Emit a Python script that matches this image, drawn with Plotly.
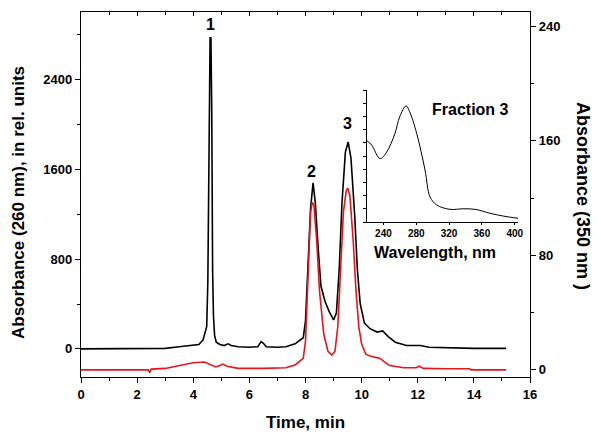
import plotly.graph_objects as go

# --- Main chromatogram, 260 nm (left axis) ---
t_260 = [0.0, 0.5, 1.0, 1.5, 2.0, 2.5, 3.0, 3.5, 3.9, 4.2, 4.35, 4.42, 4.48, 4.52, 4.55, 4.58,
         4.60, 4.63, 4.66, 4.69, 4.72, 4.76, 4.82, 4.95, 5.1, 5.25, 5.35, 5.6, 6.0, 6.3, 6.42,
         6.5, 6.6, 7.0, 7.3, 7.63, 7.92, 8.0, 8.1, 8.18, 8.27, 8.35, 8.45, 8.55, 8.7, 8.85,
         9.0, 9.1, 9.2, 9.3, 9.42, 9.52, 9.62, 9.75, 9.85, 9.95, 10.1, 10.3, 10.55, 10.75,
         10.95, 11.2, 11.6, 12.0, 12.1, 12.4, 13.0, 14.0, 15.15]
a_260 = [0, 0, 0, 0, 0, 2, 5, 20, 30, 40, 80, 140, 200, 600, 1400, 2300,
         2770, 2770, 2100, 700, 300, 120, 60, 40, 30, 45, 30, 20, 15, 20, 65,
         50, 20, 15, 20, 45, 100, 250, 800, 1250, 1478, 1300, 900, 560, 420, 330,
         258, 320, 700, 1300, 1750, 1843, 1700, 1200, 700, 400, 230, 180, 150, 160,
         110, 60, 30, 25, 30, 15, 10, 5, 5]

# --- Chromatogram, 350 nm (right axis) ---
t_350 = [0.0, 2.4, 2.45, 2.5, 3.0, 3.5, 4.0, 4.4, 4.6, 4.8, 4.95, 5.05, 5.2, 5.6, 6.5, 7.3,
         7.63, 7.92, 8.0, 8.1, 8.18, 8.24, 8.3, 8.4, 8.5, 8.65, 8.8, 8.94, 9.05, 9.15, 9.25,
         9.35, 9.45, 9.5, 9.58, 9.7, 9.8, 9.9, 10.0, 10.15, 10.3, 10.66, 10.85, 11.0, 11.5,
         11.95, 12.05, 12.2, 13.0, 13.85, 13.9, 15.15]
a_350 = [0, 0, -2, 0.5, 1, 3, 5, 5.5, 4, 2, 3, 4, 2.5, 1, 1, 1.5,
         3.4, 8, 20, 70, 110, 117, 115, 90, 55, 25, 13, 10.3, 13, 30, 70,
         110, 125, 127, 122, 90, 55, 30, 18, 11, 9.6, 8, 5, 3, 1.5,
         1.5, 2.5, 1, 0.8, 0.8, 0, 0]

# --- Inset: UV spectrum of fraction 3 ---
wl = [220, 225.7, 235.9, 244, 254, 260, 267.6, 272, 280.6, 290.7, 296.8, 305, 321, 337,
      351.7, 370, 386, 404]
spec = [0.616, 0.583, 0.48, 0.53, 0.67, 0.80, 0.88, 0.835, 0.67, 0.394, 0.19, 0.129,
        0.096, 0.10, 0.096, 0.066, 0.045, 0.028]

peak_labels = ["1", "2", "3"]
peak_t = [4.6, 8.2, 9.48]
peak_y = [2885, 1576, 2003]

FONT = "Liberation Sans"
bold = dict(family=FONT, size=13, color="black", weight="bold")

# page has an 8 px body margin: figure is offset by (8, 8)
OFF = 8
L, R, T, B = 81, 530, 12, 377   # plot area in page pixels
W, H = 601 - OFF, 444 - OFF


def px(xp):
    return (xp - L) / (R - L)


def py(yp):
    return (B - yp) / (B - T)


fig = go.Figure()
fig.add_trace(go.Scatter(x=t_350, y=a_350, mode="lines", line=dict(color="#e8141c", width=1.6),
                         yaxis="y2", xaxis="x", showlegend=False))
fig.add_trace(go.Scatter(x=t_260, y=a_260, mode="lines", line=dict(color="black", width=1.6),
                         xaxis="x", yaxis="y", showlegend=False))
fig.add_trace(go.Scatter(x=wl, y=spec, mode="lines", line=dict(color="black", width=1, shape="spline"),
                         xaxis="x3", yaxis="y3", showlegend=False))
fig.add_trace(go.Scatter(x=[0], y=[0], mode="markers", marker=dict(opacity=0), xaxis="x4", yaxis="y",
                         showlegend=False, hoverinfo="skip"))

for lab, x, y in zip(peak_labels, peak_t, peak_y):
    fig.add_annotation(x=x, y=y, xref="x", yref="y", text=lab, showarrow=False,
                       xanchor="center", yanchor="middle",
                       font=dict(family=FONT, size=16, color="black", weight="bold"))

texts = [
    ("Fraction 3", 470, 109, 0, 16),
    ("Wavelength, nm", 435, 252, 0, 16),
    ("Time, min", 305, 422, 0, 17),
    ("Absorbance (260 nm), in rel. units", 19, 203, -90, 17),
    ("Absorbance (350 nm )", 583, 196, 90, 18),
]
for txt, xp, yp, ang, sz in texts:
    fig.add_annotation(x=px(xp), y=py(yp), xref="paper", yref="paper", text=txt,
                       showarrow=False, textangle=ang, xanchor="center", yanchor="middle",
                       font=dict(family=FONT, size=sz, color="black", weight="bold"))

axis_common = dict(showgrid=False, zeroline=False, showline=True, linecolor="black", linewidth=1.3,
                   tickcolor="black", tickfont=bold)

fig.update_layout(
    width=W, height=H,
    margin=dict(l=L - OFF, r=W - (R - OFF), t=T - OFF, b=H - (B - OFF)),
    paper_bgcolor="white", plot_bgcolor="white",
    xaxis=dict(**axis_common, range=[0, 16], tick0=0, dtick=2, ticks="outside", ticklen=5,
               mirror=True,
               minor=dict(ticks="outside", ticklen=3, dtick=1, tickcolor="black", showgrid=False)),
    xaxis4=dict(overlaying="x", side="top", range=[0, 16], tick0=0, dtick=2, ticks="inside",
                ticklen=4, tickcolor="black", showticklabels=False, showgrid=False,
                zeroline=False, showline=False, anchor="y",
                minor=dict(ticks="inside", ticklen=3, dtick=1, tickcolor="black", showgrid=False)),
    yaxis=dict(**axis_common, range=[-250, 3000], tick0=0, dtick=800, ticks="outside", ticklen=5,
               minor=dict(ticks="outside", ticklen=3, dtick=400, tickcolor="black", showgrid=False)),
    yaxis2=dict(**axis_common, overlaying="y", side="right", anchor="x", range=[-5, 250], tick0=0,
                dtick=80, ticks="outside", ticklen=5,
                minor=dict(ticks="outside", ticklen=3, dtick=40, tickcolor="black", showgrid=False)),
    xaxis3=dict(showgrid=False, zeroline=False, showline=True, linecolor="black", linewidth=1,
                domain=[px(367), px(518)], anchor="y3", range=[220, 404],
                tick0=240, dtick=40, ticks="outside", ticklen=2, tickcolor="black",
                tickfont=dict(family=FONT, size=10, color="black", weight="bold")),
    yaxis3=dict(showgrid=False, zeroline=False, showline=True, linecolor="black", linewidth=1,
                domain=[py(222), py(90)], anchor="x3", range=[0, 1],
                tick0=0, dtick=0.1, ticks="outside", ticklen=3, tickcolor="black",
                showticklabels=False),
)

fig.write_html("out.html")
